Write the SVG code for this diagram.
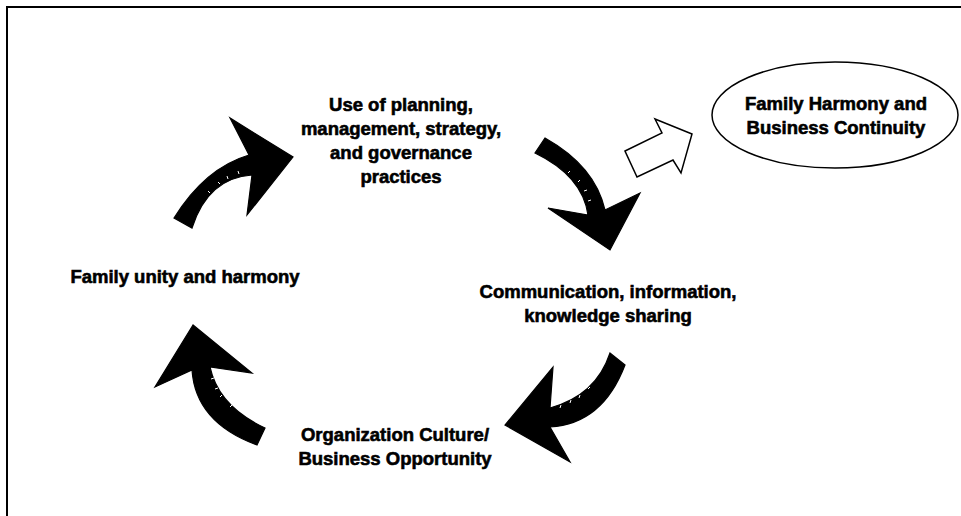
<svg xmlns="http://www.w3.org/2000/svg" width="961" height="516" viewBox="0 0 961 516">
<style>
.t{font-family:"Liberation Sans",Arial,sans-serif;font-weight:bold;font-size:18.5px;fill:#000;stroke:#000;stroke-width:0.6;text-anchor:middle}
.arr{fill:#000;stroke:#000;stroke-width:1.2;stroke-linejoin:miter}
.tick{stroke:#fff;stroke-width:1;fill:none}
</style>
<rect width="961" height="516" fill="#fff"/>
<path d="M7,520 V7 H965" fill="none" stroke="#000" stroke-width="2"/>
<g id="connectors">
  <g id="arrow-up-right">
    <path class="arr" d="M174,218 Q205,168 249,155 L230,118 L293,157 L247,215 L252,175 Q208,178 192,228 Z"/>
    <path class="tick" d="M210,193 l-2,-2 M220,184 l-2,-2 M228,179 l-1,-3 M239,174 l-1,-3"/>
  </g>
  <g id="arrow-down-right">
    <path class="arr" d="M545,138 Q595,166 605,210 L640,193 L610,250 L548,208 L588,215 Q582.5,176 535,153 Z"/>
    <path class="tick" d="M568,173 l2,-2 M578,182 l2,-2 M584,191 l3,-1 M588,201 l3,-1"/>
  </g>
  <g id="arrow-down-left">
    <path class="arr" d="M610,353 Q596,395.5 550,408 L553,367 L505,425 L570,462 L550,427 Q602.5,424 625,365 Z"/>
    <path class="tick" d="M560,408 l1,-3 M570,403 l1,-3 M579,398 l1,-3 M588,389 l2,-2"/>
  </g>
  <g id="arrow-up-left">
    <path class="arr" d="M193,325 L155,387 L192,370 Q195.5,422.5 257,445 L265,428 Q218.5,406.5 210,367 L252,373 Z"/>
    <path class="tick" d="M211,379 l3,-1 M215,389 l3,-1 M220,397 l2,-2 M230,407 l2,-2"/>
  </g>
  <polygon id="outline-arrow" points="625,151 662,133 655,119 692,134 681,173 673,160 637,177" fill="#fff" stroke="#000" stroke-width="1.5" stroke-linejoin="miter"/>
</g>
<g id="node-planning">
  <text class="t" x="401" y="111">Use of planning,</text>
  <text class="t" x="401" y="135">management, strategy,</text>
  <text class="t" x="401" y="159">and governance</text>
  <text class="t" x="401" y="183">practices</text>
</g>
<g id="node-outcome">
  <ellipse cx="835" cy="115" rx="123" ry="53" fill="#fff" stroke="#000" stroke-width="1.5"/>
  <text class="t" x="836" y="110">Family Harmony and</text>
  <text class="t" x="836" y="134">Business Continuity</text>
</g>
<g id="node-communication">
  <text class="t" x="608" y="298">Communication, information,</text>
  <text class="t" x="608" y="322">knowledge sharing</text>
</g>
<g id="node-culture">
  <text class="t" x="395" y="441">Organization Culture/</text>
  <text class="t" x="395" y="465">Business Opportunity</text>
</g>
<g id="node-unity">
  <text class="t" x="185" y="283">Family unity and harmony</text>
</g>
</svg>
